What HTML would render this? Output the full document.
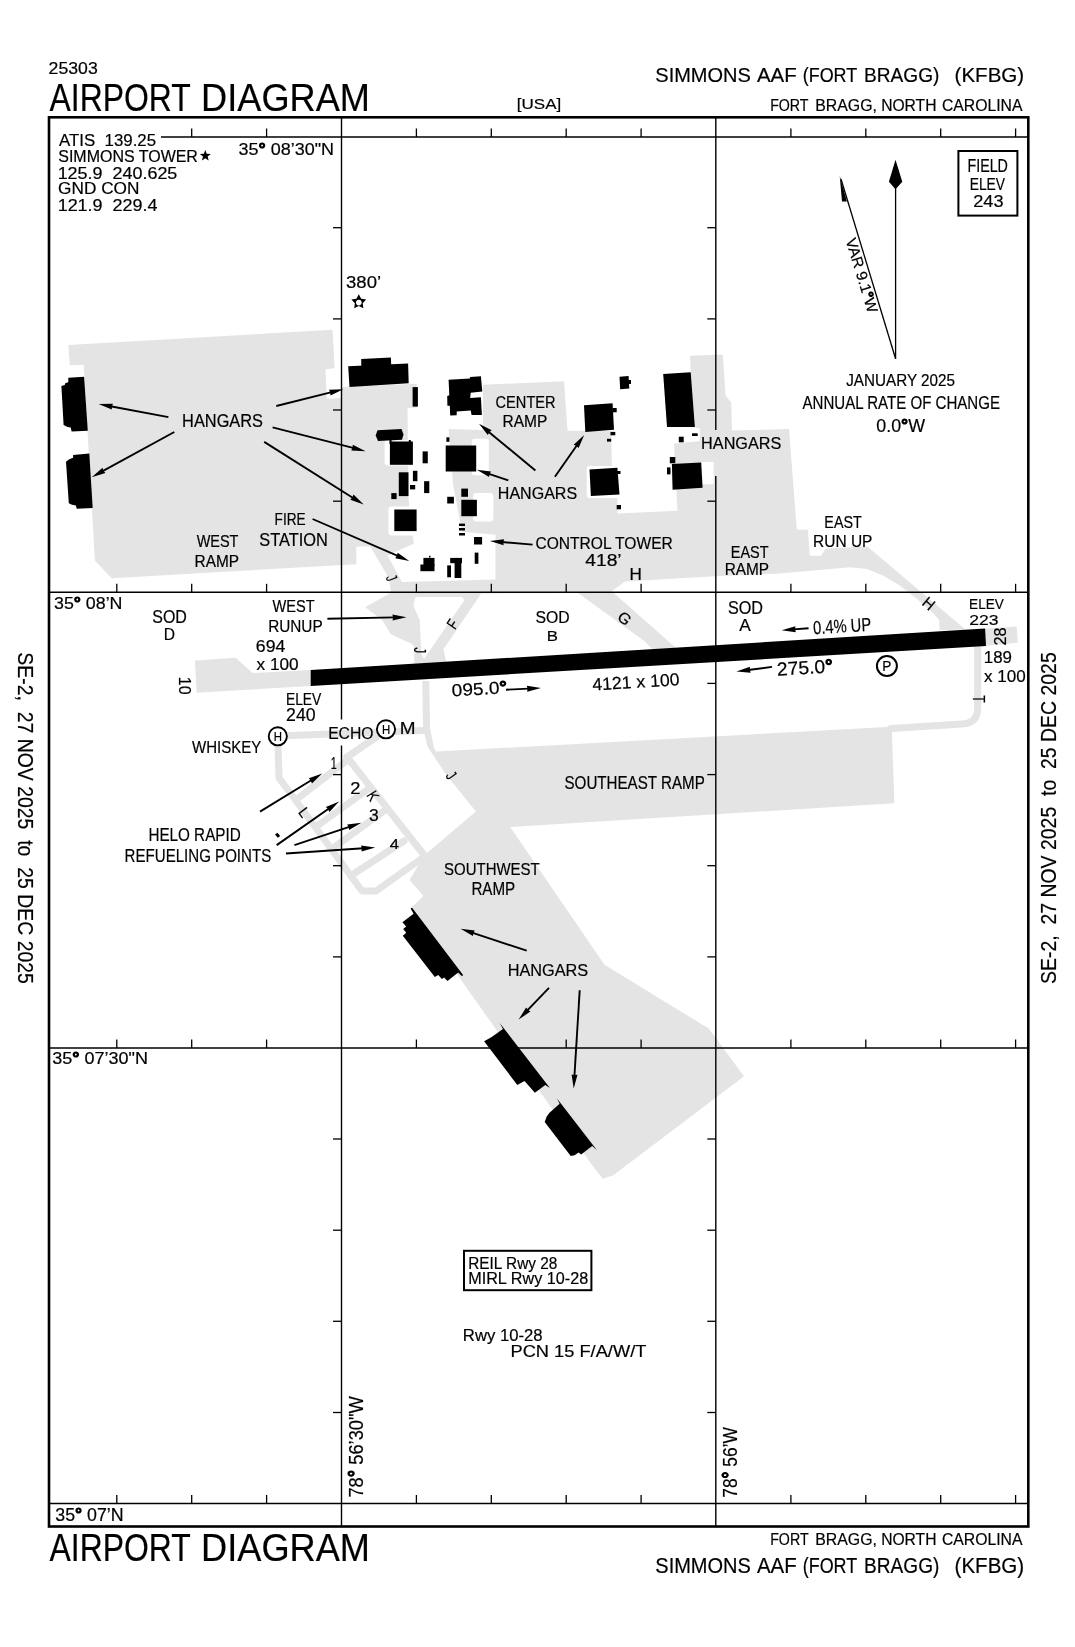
<!DOCTYPE html>
<html><head><meta charset="utf-8"><style>
html,body{margin:0;padding:0;background:#fff;width:1075px;height:1647px;overflow:hidden}
svg{display:block;will-change:transform}
text{font-family:"Liberation Sans",sans-serif;fill:#000;white-space:pre;stroke:#000;stroke-width:0.2px}
</style></head><body>
<svg width="1075" height="1647" viewBox="0 0 1075 1647">
<polygon points="68.3,345.1 332.6,329.8 334.5,368.2 325.4,369.2 326.7,398.8 341.7,398.1 341.7,387.0 416.5,383.8 417.2,407.4 407.5,408.0 408.5,499.0 413.7,543.7 387.6,555.6 401.9,581.9 495.5,579.4 495.5,534.8 462.0,531.8 453.1,484.2 448.6,429.1 483.0,430.0 483.0,384.7 564.1,381.3 567.5,430.7 611.2,431.2 611.9,466.0 617.4,498.0 617.4,513.5 677.4,510.7 674.0,443.7 699.8,441.0 699.8,428.4 695.0,427.5 690.7,372.3 690.1,355.7 722.8,354.6 725.6,395.6 731.2,402.6 732.0,430.5 789.0,429.1 796.8,529.5 807.9,529.8 809.8,555.8 821.0,555.8 826.0,548.5 867.4,546.5 964.2,628.4 966.0,629.5 939.5,630.0 939.3,620.3 933.7,613.6 917.0,599.1 900.2,585.7 883.5,575.7 866.7,569.0 850.0,567.3 780.0,573.5 714.6,576.3 625.0,581.6 611.8,591.3 676.0,648.0 656.0,649.5 578.0,593.0 481.2,593.4 443.5,649.2 446.3,662.0 414.2,663.5 414.2,646.4 411.4,643.6 403.0,640.1 390.5,633.8 382.1,620.0 365.3,607.3 391.0,592.5 388.8,578.1 370.2,546.5 356.3,546.5 356.3,564.2 111.6,578.3 94.9,560.5 83.7,364.7 69.8,365.2" fill="#e4e4e4" />
<polygon points="417.0,596.9 462.0,596.9 464.4,600.3 424.0,659.0 421.2,653.4 419.8,620.0 413.5,606.0 415.0,598.0" fill="#fff" />
<polygon points="194.9,660.5 235.8,657.7 252.6,673.0 310.7,670.1 310.7,686.0 196.7,692.7" fill="#e4e4e4" />
<polygon points="985.0,628.8 1016.7,626.6 1017.7,642.8 985.0,646.0" fill="#e4e4e4" />
<polygon points="422.3,681.0 429.3,681.0 430.0,728.0 434.0,748.0 436.3,751.6 891.7,726.7 894.4,803.2 510.2,827.0 604.5,964.8 708.7,1028.5 744.1,1076.2 613.3,1175.2 602.7,1178.7 590.3,1162.8 410.6,908.6 423.5,896.0 409.5,880.0 424.0,855.5 475.9,811.4 446.0,774.4 427.4,746.5 423.0,728.0" fill="#e4e4e4" />
<polyline points="277.7,736.0 424.0,730.5" fill="none" stroke="#e4e4e4" stroke-width="7" stroke-linejoin="round" stroke-linecap="round"/>
<polyline points="278.0,745.0 279.0,778.0 294.0,798.0 362.0,891.0 376.0,891.0 421.0,859.0" fill="none" stroke="#e4e4e4" stroke-width="7" stroke-linejoin="round" stroke-linecap="round"/>
<polyline points="347.0,757.0 424.0,855.0" fill="none" stroke="#e4e4e4" stroke-width="7" stroke-linejoin="round" stroke-linecap="round"/>
<polyline points="378.0,736.0 347.0,757.0" fill="none" stroke="#e4e4e4" stroke-width="7" stroke-linejoin="round" stroke-linecap="round"/>
<polyline points="297.0,799.0 345.0,762.0" fill="none" stroke="#e4e4e4" stroke-width="7" stroke-linejoin="round" stroke-linecap="round"/>
<polyline points="317.0,826.0 367.0,790.0" fill="none" stroke="#e4e4e4" stroke-width="7" stroke-linejoin="round" stroke-linecap="round"/>
<polyline points="333.0,848.0 384.0,811.0" fill="none" stroke="#e4e4e4" stroke-width="7" stroke-linejoin="round" stroke-linecap="round"/>
<polyline points="355.0,873.0 404.0,841.0" fill="none" stroke="#e4e4e4" stroke-width="7" stroke-linejoin="round" stroke-linecap="round"/>
<path d="M977.7,646 L977.7,708 Q977.7,723.5 962,724 L891,728.5" fill="none" stroke="#e4e4e4" stroke-width="7" stroke-linecap="round"/>
<polyline points="592.0,579.0 658.0,649.0" fill="none" stroke="#e4e4e4" stroke-width="8.5" stroke-linejoin="round" stroke-linecap="round"/>
<rect x="384.6" y="440.3" width="28.3" height="25.3" fill="#fff" rx="3"/>
<rect x="388.4" y="506.5" width="28.2" height="29.0" fill="#fff" rx="3"/>
<rect x="471.7" y="438.8" width="17.1" height="36.5" fill="#fff" rx="3"/>
<rect x="473.2" y="493.1" width="20.1" height="28.3" fill="#fff" rx="3"/>
<rect x="586.7" y="466.0" width="32.3" height="32.0" fill="#fff" rx="3"/>
<rect x="701.2" y="461.9" width="12.5" height="22.3" fill="#fff"/>
<polygon points="68.3,377.7 84.1,376.7 87.8,430.7 71.6,431.6 70.7,427.5 67.5,427.0 63.6,425.1 61.4,386.0 64.7,385.1 65.5,382.9 68.3,382.3" fill="#000" />
<polygon points="73.1,454.9 89.3,453.6 92.7,507.9 76.7,508.8 75.9,505.5 72.0,504.7 68.8,503.3 66.0,461.8 69.2,459.2 73.1,457.7" fill="#000" />
<polygon points="348.2,366.2 408.1,363.6 408.7,383.2 349.5,387.1" fill="#000" />
<polygon points="361.2,359.1 390.9,357.5 391.2,365.0 361.3,366.5" fill="#000" />
<rect x="412.6" y="387.1" width="5.3" height="19.5" fill="#000"/>
<rect x="389.9" y="441.5" width="23.0" height="23.3" fill="#000"/>
<rect x="422.6" y="451.4" width="5.2" height="11.9" fill="#000"/>
<rect x="398.8" y="472.3" width="9.7" height="23.8" fill="#000"/>
<rect x="412.9" y="470.8" width="4.5" height="10.4" fill="#000"/>
<rect x="410.0" y="485.0" width="5.2" height="4.4" fill="#000"/>
<rect x="424.1" y="481.2" width="5.2" height="11.9" fill="#000"/>
<rect x="391.3" y="493.1" width="5.3" height="6.0" fill="#000"/>
<rect x="394.3" y="509.5" width="22.3" height="21.6" fill="#000"/>
<rect x="445.7" y="445.5" width="30.5" height="26.0" fill="#000"/>
<rect x="446.4" y="437.3" width="3.0" height="4.5" fill="#000"/>
<rect x="447.2" y="496.8" width="6.7" height="6.7" fill="#000"/>
<rect x="461.3" y="488.6" width="6.7" height="8.2" fill="#000"/>
<rect x="461.3" y="499.8" width="15.6" height="16.4" fill="#000"/>
<rect x="459.0" y="523.6" width="6.0" height="2.4" fill="#000"/>
<rect x="459.0" y="528.0" width="6.0" height="2.5" fill="#000"/>
<rect x="459.0" y="533.0" width="6.0" height="2.5" fill="#000"/>
<rect x="474.0" y="537.0" width="8.1" height="7.5" fill="#000"/>
<rect x="474.7" y="552.6" width="3.7" height="11.2" fill="#000"/>
<rect x="423.4" y="557.9" width="11.1" height="8.1" fill="#000"/>
<rect x="420.4" y="564.5" width="14.1" height="6.7" fill="#000"/>
<rect x="450.2" y="557.9" width="11.8" height="5.3" fill="#000"/>
<rect x="454.6" y="562.0" width="6.7" height="16.0" fill="#000"/>
<rect x="447.2" y="565.4" width="3.8" height="11.9" fill="#000"/>
<rect x="429.0" y="555.8" width="1.5" height="1.7" fill="#000"/>
<rect x="612.6" y="408.0" width="4.1" height="4.3" fill="#000"/>
<rect x="610.5" y="431.9" width="4.8" height="3.4" fill="#000"/>
<rect x="607.0" y="438.8" width="4.2" height="2.8" fill="#000"/>
<rect x="628.0" y="380.0" width="3.0" height="4.0" fill="#000"/>
<rect x="617.0" y="471.0" width="3.5" height="3.0" fill="#000"/>
<rect x="669.8" y="457.0" width="5.5" height="6.3" fill="#000"/>
<rect x="667.0" y="467.4" width="3.5" height="7.0" fill="#000"/>
<rect x="678.8" y="436.7" width="4.9" height="5.6" fill="#000"/>
<rect x="692.0" y="433.3" width="5.7" height="2.7" fill="#000"/>
<rect x="616.7" y="505.0" width="4.3" height="4.3" fill="#000"/>
<polygon points="584.0,405.3 612.6,403.3 614.0,429.8 585.3,431.9" fill="#000" />
<polygon points="619.5,376.7 628.6,376.0 629.3,388.6 620.2,389.3" fill="#000" />
<polygon points="589.5,469.5 617.4,467.7 619.5,494.6 590.9,496.0" fill="#000" />
<polygon points="663.2,374.0 690.7,372.3 694.9,427.0 667.0,427.0" fill="#000" />
<polygon points="671.9,464.0 701.2,462.6 702.6,487.7 672.6,489.8" fill="#000" />
<polygon points="377.5,430.3 401.5,428.9 403.5,434.5 402.0,439.8 378.0,441.0 375.7,435.5" fill="#000" />
<rect x="389.5" y="440.0" width="2.0" height="4.0" fill="#000"/>
<rect x="408.8" y="440.0" width="2.0" height="4.0" fill="#000"/>
<polygon points="448.6,379.8 469.8,378.6 470.2,377.0 480.9,376.3 482.3,391.6 470.7,392.8 470.2,397.9 480.9,397.2 481.9,414.9 471.6,415.1 470.7,410.5 456.7,411.4 456.7,415.3 450.2,415.6 449.8,405.8 447.4,405.8 447.2,396.0 449.3,395.3" fill="#000" />
<polygon points="410.6,908.6 412.1,907.8 463.1,975.1 462.0,976.3 458.2,972.5 447.5,981.1 444.1,977.4 441.9,978.9 438.2,975.1 434.8,977.0 402.8,935.7 406.2,932.7 403.2,929.0 406.2,926.4 402.4,922.3 413.6,913.8" fill="#000" />
<polygon points="499.7,1023.0 549.9,1088.1 545.3,1084.9 534.9,1092.7 524.5,1081.0 517.3,1084.9 484.1,1041.3 491.3,1037.3 503.0,1028.9" fill="#000" />
<polygon points="557.0,1098.6 596.8,1150.0 592.2,1146.1 581.1,1154.5 578.5,1152.6 574.6,1155.2 570.7,1155.9 544.7,1122.0 546.6,1116.8 549.2,1112.9 559.6,1103.8" fill="#000" />
<polygon points="310.7,670.1 985.1,628.5 986.0,646.0 310.7,686.0" fill="#000" />
<g stroke="#000" fill="none">
<rect x="49" y="117.3" width="979.3" height="1409.2" stroke-width="2.6"/>
</g>
<line x1="161.0" y1="137.0" x2="1028.0" y2="137.0" stroke="#000" stroke-width="1.4"/>
<line x1="49.0" y1="1503.5" x2="1028.0" y2="1503.5" stroke="#000" stroke-width="1.4"/>
<line x1="49.0" y1="592.3" x2="1028.0" y2="592.3" stroke="#000" stroke-width="1.4"/>
<line x1="49.0" y1="1048.0" x2="1028.0" y2="1048.0" stroke="#000" stroke-width="1.4"/>
<line x1="341.5" y1="117.3" x2="341.5" y2="719.5" stroke="#000" stroke-width="1.4"/>
<line x1="341.5" y1="745.6" x2="341.5" y2="1526.5" stroke="#000" stroke-width="1.4"/>
<line x1="715.8" y1="117.3" x2="715.8" y2="430.0" stroke="#000" stroke-width="1.4"/>
<line x1="715.8" y1="476.0" x2="715.8" y2="1526.5" stroke="#000" stroke-width="1.4"/>
<line x1="191.7" y1="128.5" x2="191.7" y2="137.0" stroke="#000" stroke-width="1.3"/>
<line x1="266.6" y1="128.5" x2="266.6" y2="137.0" stroke="#000" stroke-width="1.3"/>
<line x1="416.4" y1="128.5" x2="416.4" y2="137.0" stroke="#000" stroke-width="1.3"/>
<line x1="491.3" y1="128.5" x2="491.3" y2="137.0" stroke="#000" stroke-width="1.3"/>
<line x1="566.2" y1="128.5" x2="566.2" y2="137.0" stroke="#000" stroke-width="1.3"/>
<line x1="641.1" y1="128.5" x2="641.1" y2="137.0" stroke="#000" stroke-width="1.3"/>
<line x1="790.9" y1="128.5" x2="790.9" y2="137.0" stroke="#000" stroke-width="1.3"/>
<line x1="865.8" y1="128.5" x2="865.8" y2="137.0" stroke="#000" stroke-width="1.3"/>
<line x1="940.7" y1="128.5" x2="940.7" y2="137.0" stroke="#000" stroke-width="1.3"/>
<line x1="1015.6" y1="128.5" x2="1015.6" y2="137.0" stroke="#000" stroke-width="1.3"/>
<line x1="116.8" y1="583.8" x2="116.8" y2="592.3" stroke="#000" stroke-width="1.3"/>
<line x1="191.7" y1="583.8" x2="191.7" y2="592.3" stroke="#000" stroke-width="1.3"/>
<line x1="266.6" y1="583.8" x2="266.6" y2="592.3" stroke="#000" stroke-width="1.3"/>
<line x1="416.4" y1="583.8" x2="416.4" y2="592.3" stroke="#000" stroke-width="1.3"/>
<line x1="491.3" y1="583.8" x2="491.3" y2="592.3" stroke="#000" stroke-width="1.3"/>
<line x1="566.2" y1="583.8" x2="566.2" y2="592.3" stroke="#000" stroke-width="1.3"/>
<line x1="641.1" y1="583.8" x2="641.1" y2="592.3" stroke="#000" stroke-width="1.3"/>
<line x1="790.9" y1="583.8" x2="790.9" y2="592.3" stroke="#000" stroke-width="1.3"/>
<line x1="865.8" y1="583.8" x2="865.8" y2="592.3" stroke="#000" stroke-width="1.3"/>
<line x1="940.7" y1="583.8" x2="940.7" y2="592.3" stroke="#000" stroke-width="1.3"/>
<line x1="1015.6" y1="583.8" x2="1015.6" y2="592.3" stroke="#000" stroke-width="1.3"/>
<line x1="116.8" y1="1039.5" x2="116.8" y2="1048.0" stroke="#000" stroke-width="1.3"/>
<line x1="191.7" y1="1039.5" x2="191.7" y2="1048.0" stroke="#000" stroke-width="1.3"/>
<line x1="266.6" y1="1039.5" x2="266.6" y2="1048.0" stroke="#000" stroke-width="1.3"/>
<line x1="416.4" y1="1039.5" x2="416.4" y2="1048.0" stroke="#000" stroke-width="1.3"/>
<line x1="491.3" y1="1039.5" x2="491.3" y2="1048.0" stroke="#000" stroke-width="1.3"/>
<line x1="566.2" y1="1039.5" x2="566.2" y2="1048.0" stroke="#000" stroke-width="1.3"/>
<line x1="641.1" y1="1039.5" x2="641.1" y2="1048.0" stroke="#000" stroke-width="1.3"/>
<line x1="790.9" y1="1039.5" x2="790.9" y2="1048.0" stroke="#000" stroke-width="1.3"/>
<line x1="865.8" y1="1039.5" x2="865.8" y2="1048.0" stroke="#000" stroke-width="1.3"/>
<line x1="940.7" y1="1039.5" x2="940.7" y2="1048.0" stroke="#000" stroke-width="1.3"/>
<line x1="1015.6" y1="1039.5" x2="1015.6" y2="1048.0" stroke="#000" stroke-width="1.3"/>
<line x1="116.8" y1="1495.0" x2="116.8" y2="1503.5" stroke="#000" stroke-width="1.3"/>
<line x1="191.7" y1="1495.0" x2="191.7" y2="1503.5" stroke="#000" stroke-width="1.3"/>
<line x1="266.6" y1="1495.0" x2="266.6" y2="1503.5" stroke="#000" stroke-width="1.3"/>
<line x1="416.4" y1="1495.0" x2="416.4" y2="1503.5" stroke="#000" stroke-width="1.3"/>
<line x1="491.3" y1="1495.0" x2="491.3" y2="1503.5" stroke="#000" stroke-width="1.3"/>
<line x1="566.2" y1="1495.0" x2="566.2" y2="1503.5" stroke="#000" stroke-width="1.3"/>
<line x1="641.1" y1="1495.0" x2="641.1" y2="1503.5" stroke="#000" stroke-width="1.3"/>
<line x1="790.9" y1="1495.0" x2="790.9" y2="1503.5" stroke="#000" stroke-width="1.3"/>
<line x1="865.8" y1="1495.0" x2="865.8" y2="1503.5" stroke="#000" stroke-width="1.3"/>
<line x1="940.7" y1="1495.0" x2="940.7" y2="1503.5" stroke="#000" stroke-width="1.3"/>
<line x1="1015.6" y1="1495.0" x2="1015.6" y2="1503.5" stroke="#000" stroke-width="1.3"/>
<line x1="333.0" y1="501.2" x2="341.5" y2="501.2" stroke="#000" stroke-width="1.3"/>
<line x1="333.0" y1="956.9" x2="341.5" y2="956.9" stroke="#000" stroke-width="1.3"/>
<line x1="333.0" y1="1412.5" x2="341.5" y2="1412.5" stroke="#000" stroke-width="1.3"/>
<line x1="333.0" y1="410.0" x2="341.5" y2="410.0" stroke="#000" stroke-width="1.3"/>
<line x1="333.0" y1="865.7" x2="341.5" y2="865.7" stroke="#000" stroke-width="1.3"/>
<line x1="333.0" y1="1321.3" x2="341.5" y2="1321.3" stroke="#000" stroke-width="1.3"/>
<line x1="333.0" y1="318.9" x2="341.5" y2="318.9" stroke="#000" stroke-width="1.3"/>
<line x1="333.0" y1="774.6" x2="341.5" y2="774.6" stroke="#000" stroke-width="1.3"/>
<line x1="333.0" y1="1230.2" x2="341.5" y2="1230.2" stroke="#000" stroke-width="1.3"/>
<line x1="333.0" y1="227.7" x2="341.5" y2="227.7" stroke="#000" stroke-width="1.3"/>
<line x1="333.0" y1="683.4" x2="341.5" y2="683.4" stroke="#000" stroke-width="1.3"/>
<line x1="333.0" y1="1139.0" x2="341.5" y2="1139.0" stroke="#000" stroke-width="1.3"/>
<line x1="707.3" y1="501.2" x2="715.8" y2="501.2" stroke="#000" stroke-width="1.3"/>
<line x1="707.3" y1="956.9" x2="715.8" y2="956.9" stroke="#000" stroke-width="1.3"/>
<line x1="707.3" y1="1412.5" x2="715.8" y2="1412.5" stroke="#000" stroke-width="1.3"/>
<line x1="707.3" y1="410.0" x2="715.8" y2="410.0" stroke="#000" stroke-width="1.3"/>
<line x1="707.3" y1="865.7" x2="715.8" y2="865.7" stroke="#000" stroke-width="1.3"/>
<line x1="707.3" y1="1321.3" x2="715.8" y2="1321.3" stroke="#000" stroke-width="1.3"/>
<line x1="707.3" y1="318.9" x2="715.8" y2="318.9" stroke="#000" stroke-width="1.3"/>
<line x1="707.3" y1="774.6" x2="715.8" y2="774.6" stroke="#000" stroke-width="1.3"/>
<line x1="707.3" y1="1230.2" x2="715.8" y2="1230.2" stroke="#000" stroke-width="1.3"/>
<line x1="707.3" y1="227.7" x2="715.8" y2="227.7" stroke="#000" stroke-width="1.3"/>
<line x1="707.3" y1="683.4" x2="715.8" y2="683.4" stroke="#000" stroke-width="1.3"/>
<line x1="707.3" y1="1139.0" x2="715.8" y2="1139.0" stroke="#000" stroke-width="1.3"/>
<rect x="958.4" y="151" width="59" height="64.6" fill="none" stroke="#000" stroke-width="2"/>
<rect x="464" y="1250.8" width="127.4" height="39.4" fill="none" stroke="#000" stroke-width="2"/>
<circle cx="277.8" cy="736.3" r="9.1" fill="#fff" stroke="#000" stroke-width="1.9"/>
<text x="273.69" y="740.50" font-size="12.17" textLength="8.25" lengthAdjust="spacingAndGlyphs" >H</text>
<circle cx="386" cy="729.3" r="9.1" fill="#fff" stroke="#000" stroke-width="1.9"/>
<text x="381.89" y="733.50" font-size="12.17" textLength="8.25" lengthAdjust="spacingAndGlyphs" >H</text>
<circle cx="886.9" cy="666" r="10" fill="#fff" stroke="#000" stroke-width="2"/>
<text x="882.21" y="671.20" font-size="15.07" textLength="9.10" lengthAdjust="spacingAndGlyphs" >P</text>
<line x1="895.6" y1="186.0" x2="895.6" y2="358.8" stroke="#000" stroke-width="1.3"/>
<polygon points="895.5,159.8 902.3,181.8 895.5,189.2 888.9,181.8" fill="#000" />
<line x1="841.0" y1="179.0" x2="895.6" y2="358.8" stroke="#000" stroke-width="1.3"/>
<polygon points="839.7,175.7 846.9,201.4 842.0,201.4" fill="#000" />
<polygon points="205.3,150.0 206.7,153.8 210.8,154.0 207.6,156.6 208.7,160.5 205.3,158.2 201.9,160.5 203.0,156.6 199.8,154.0 203.9,153.8" fill="#000" />
<polygon points="358.8,294.2 361.2,298.7 366.2,299.6 362.7,303.3 363.4,308.3 358.8,306.1 354.2,308.3 354.9,303.3 351.4,299.6 356.4,298.7" fill="#000" />
<circle cx="358.8" cy="302.6" r="2.8" fill="#fff"/>
<line x1="168.4" y1="417.1" x2="110.4" y2="406.3" stroke="#000" stroke-width="1.9"/>
<polygon points="98.6,404.1 112.9,403.7 111.9,406.6 111.8,409.6" fill="#000" />
<line x1="174.3" y1="432.0" x2="102.2" y2="471.4" stroke="#000" stroke-width="1.9"/>
<polygon points="91.7,477.2 102.5,467.8 103.5,470.7 105.4,473.1" fill="#000" />
<line x1="276.3" y1="406.0" x2="331.7" y2="392.1" stroke="#000" stroke-width="1.9"/>
<polygon points="343.3,389.2 330.5,395.5 330.2,392.5 329.0,389.7" fill="#000" />
<line x1="272.6" y1="427.3" x2="354.0" y2="448.2" stroke="#000" stroke-width="1.9"/>
<polygon points="365.6,451.2 351.3,450.6 352.5,447.8 352.8,444.8" fill="#000" />
<line x1="264.2" y1="441.9" x2="353.5" y2="498.2" stroke="#000" stroke-width="1.9"/>
<polygon points="363.7,504.6 350.3,499.7 352.3,497.4 353.5,494.6" fill="#000" />
<line x1="312.6" y1="519.0" x2="398.3" y2="556.2" stroke="#000" stroke-width="1.9"/>
<polygon points="409.3,561.0 395.3,558.2 396.9,555.6 397.7,552.7" fill="#000" />
<line x1="327.4" y1="618.7" x2="394.5" y2="617.4" stroke="#000" stroke-width="1.9"/>
<polygon points="406.5,617.2 392.6,620.5 393.0,617.5 392.4,614.5" fill="#000" />
<line x1="535.4" y1="470.6" x2="488.2" y2="431.4" stroke="#000" stroke-width="1.9"/>
<polygon points="479.0,423.7 491.7,430.3 489.4,432.3 487.8,435.0" fill="#000" />
<line x1="554.9" y1="476.8" x2="577.3" y2="444.7" stroke="#000" stroke-width="1.9"/>
<polygon points="584.2,434.9 578.6,448.1 576.5,446.0 573.7,444.7" fill="#000" />
<line x1="508.3" y1="480.4" x2="488.2" y2="473.6" stroke="#000" stroke-width="1.9"/>
<polygon points="476.8,469.8 491.0,471.4 489.6,474.1 489.1,477.1" fill="#000" />
<line x1="532.6" y1="544.6" x2="501.9" y2="542.0" stroke="#000" stroke-width="1.9"/>
<polygon points="489.9,541.0 504.1,539.2 503.4,542.1 503.6,545.2" fill="#000" />
<line x1="260.0" y1="811.6" x2="312.1" y2="779.8" stroke="#000" stroke-width="1.9"/>
<polygon points="322.3,773.5 311.9,783.4 310.8,780.5 308.8,778.2" fill="#000" />
<line x1="276.7" y1="845.1" x2="329.3" y2="808.3" stroke="#000" stroke-width="1.9"/>
<polygon points="339.1,801.4 329.4,811.9 328.0,809.1 325.9,807.0" fill="#000" />
<line x1="294.4" y1="845.1" x2="350.0" y2="826.6" stroke="#000" stroke-width="1.9"/>
<polygon points="361.4,822.8 349.1,830.1 348.6,827.1 347.2,824.4" fill="#000" />
<line x1="286.0" y1="853.5" x2="363.3" y2="848.3" stroke="#000" stroke-width="1.9"/>
<polygon points="375.3,847.5 361.5,851.4 361.8,848.4 361.1,845.4" fill="#000" />
<line x1="526.7" y1="950.7" x2="472.0" y2="932.6" stroke="#000" stroke-width="1.9"/>
<polygon points="460.6,928.8 474.8,930.4 473.4,933.0 472.9,936.1" fill="#000" />
<line x1="549.0" y1="987.8" x2="526.9" y2="1010.9" stroke="#000" stroke-width="1.9"/>
<polygon points="518.6,1019.6 526.1,1007.4 527.9,1009.8 530.4,1011.6" fill="#000" />
<line x1="579.7" y1="990.3" x2="574.4" y2="1076.6" stroke="#000" stroke-width="1.9"/>
<polygon points="573.7,1088.6 571.6,1074.4 574.5,1075.1 577.5,1074.8" fill="#000" />
<line x1="506.0" y1="689.7" x2="529.0" y2="688.6" stroke="#000" stroke-width="1.9"/>
<polygon points="541.0,688.0 527.2,691.7 527.5,688.7 526.9,685.7" fill="#000" />
<line x1="808.6" y1="628.3" x2="793.6" y2="629.4" stroke="#000" stroke-width="1.9"/>
<polygon points="781.6,630.2 795.4,626.2 795.1,629.3 795.8,632.2" fill="#000" />
<line x1="772.0" y1="666.9" x2="748.3" y2="670.0" stroke="#000" stroke-width="1.9"/>
<polygon points="736.4,671.5 749.9,666.7 749.8,669.8 750.7,672.7" fill="#000" />
<text x="48.62" y="74.00" font-size="15.94" textLength="49.10" lengthAdjust="spacingAndGlyphs" >25303</text>
<text x="49.50" y="110.70" font-size="39.42" textLength="141.20" lengthAdjust="spacingAndGlyphs" >AIRPORT</text>
<text x="201.11" y="110.70" font-size="39.42" textLength="168.87" lengthAdjust="spacingAndGlyphs" >DIAGRAM</text>
<text x="516.81" y="108.70" font-size="15.07" textLength="44.41" lengthAdjust="spacingAndGlyphs" >[USA]</text>
<text x="655.30" y="82.10" font-size="21.01" textLength="95.56" lengthAdjust="spacingAndGlyphs" >SIMMONS</text>
<text x="756.90" y="82.10" font-size="21.01" textLength="39.72" lengthAdjust="spacingAndGlyphs" >AAF</text>
<text x="802.72" y="82.10" font-size="21.01" textLength="54.47" lengthAdjust="spacingAndGlyphs" >(FORT</text>
<text x="864.07" y="82.10" font-size="21.01" textLength="75.26" lengthAdjust="spacingAndGlyphs" >BRAGG)</text>
<text x="954.57" y="82.10" font-size="21.01" textLength="69.64" lengthAdjust="spacingAndGlyphs" >(KFBG)</text>
<text x="770.16" y="110.70" font-size="16.67" textLength="38.40" lengthAdjust="spacingAndGlyphs" >FORT</text>
<text x="815.23" y="110.70" font-size="16.67" textLength="61.69" lengthAdjust="spacingAndGlyphs" >BRAGG,</text>
<text x="881.15" y="110.70" font-size="16.67" textLength="55.34" lengthAdjust="spacingAndGlyphs" >NORTH</text>
<text x="941.91" y="110.70" font-size="16.67" textLength="80.63" lengthAdjust="spacingAndGlyphs" >CAROLINA</text>
<text x="59.00" y="146.00" font-size="17.10" textLength="97.12" lengthAdjust="spacingAndGlyphs" >ATIS  139.25</text>
<text x="58.28" y="162.00" font-size="16.38" textLength="139.66" lengthAdjust="spacingAndGlyphs" >SIMMONS TOWER</text>
<text x="57.65" y="178.50" font-size="17.39" textLength="119.72" lengthAdjust="spacingAndGlyphs" >125.9  240.625</text>
<text x="58.14" y="194.30" font-size="15.94" textLength="81.28" lengthAdjust="spacingAndGlyphs" >GND CON</text>
<text x="57.65" y="211.00" font-size="17.39" textLength="99.90" lengthAdjust="spacingAndGlyphs" >121.9  229.4</text>
<text x="238.48" y="154.80" font-size="17.39" textLength="95.53" lengthAdjust="spacingAndGlyphs" >35<tspan style="stroke-width:1.3px">°</tspan> 08’30"N</text>
<text x="967.46" y="172.40" font-size="17.97" textLength="40.44" lengthAdjust="spacingAndGlyphs" >FIELD</text>
<text x="969.69" y="189.60" font-size="16.81" textLength="35.41" lengthAdjust="spacingAndGlyphs" >ELEV</text>
<text x="973.19" y="207.00" font-size="16.81" textLength="30.30" lengthAdjust="spacingAndGlyphs" >243</text>
<text x="346.06" y="287.60" font-size="16.09" textLength="35.07" lengthAdjust="spacingAndGlyphs" >380’</text>
<text x="182.09" y="426.50" font-size="18.84" textLength="80.95" lengthAdjust="spacingAndGlyphs" >HANGARS</text>
<text x="846.17" y="385.80" font-size="16.09" textLength="108.82" lengthAdjust="spacingAndGlyphs" >JANUARY 2025</text>
<text x="802.50" y="409.00" font-size="18.84" textLength="197.45" lengthAdjust="spacingAndGlyphs" >ANNUAL RATE OF CHANGE</text>
<text x="876.29" y="432.00" font-size="18.84" textLength="48.78" lengthAdjust="spacingAndGlyphs" >0.0<tspan style="stroke-width:1.3px">°</tspan>W</text>
<text x="495.57" y="408.40" font-size="16.23" textLength="60.01" lengthAdjust="spacingAndGlyphs" >CENTER</text>
<text x="502.56" y="427.40" font-size="16.67" textLength="44.78" lengthAdjust="spacingAndGlyphs" >RAMP</text>
<text x="497.82" y="498.50" font-size="17.39" textLength="79.31" lengthAdjust="spacingAndGlyphs" >HANGARS</text>
<text x="701.10" y="448.60" font-size="16.23" textLength="80.24" lengthAdjust="spacingAndGlyphs" >HANGARS</text>
<text x="274.61" y="525.10" font-size="16.09" textLength="31.08" lengthAdjust="spacingAndGlyphs" >FIRE</text>
<text x="259.26" y="545.60" font-size="17.54" textLength="68.55" lengthAdjust="spacingAndGlyphs" >STATION</text>
<text x="196.63" y="546.60" font-size="16.96" textLength="41.84" lengthAdjust="spacingAndGlyphs" >WEST</text>
<text x="194.57" y="566.50" font-size="16.67" textLength="44.47" lengthAdjust="spacingAndGlyphs" >RAMP</text>
<text x="535.42" y="548.80" font-size="17.39" textLength="137.39" lengthAdjust="spacingAndGlyphs" >CONTROL TOWER</text>
<text x="585.21" y="566.00" font-size="16.09" textLength="36.46" lengthAdjust="spacingAndGlyphs" >418’</text>
<text x="629.63" y="580.00" font-size="16.09" textLength="12.38" lengthAdjust="spacingAndGlyphs" >H</text>
<text x="824.35" y="528.20" font-size="16.23" textLength="37.46" lengthAdjust="spacingAndGlyphs" >EAST</text>
<text x="813.06" y="547.10" font-size="16.09" textLength="59.37" lengthAdjust="spacingAndGlyphs" >RUN UP</text>
<text x="730.84" y="557.50" font-size="17.39" textLength="37.77" lengthAdjust="spacingAndGlyphs" >EAST</text>
<text x="724.67" y="575.00" font-size="17.39" textLength="44.47" lengthAdjust="spacingAndGlyphs" >RAMP</text>
<text x="53.99" y="608.60" font-size="16.81" textLength="68.47" lengthAdjust="spacingAndGlyphs" >35<tspan style="stroke-width:1.3px">°</tspan> 08’N</text>
<text x="152.28" y="623.30" font-size="17.54" textLength="34.57" lengthAdjust="spacingAndGlyphs" >SOD</text>
<text x="163.85" y="640.00" font-size="16.23" textLength="11.29" lengthAdjust="spacingAndGlyphs" >D</text>
<text x="272.53" y="611.60" font-size="16.09" textLength="42.15" lengthAdjust="spacingAndGlyphs" >WEST</text>
<text x="268.17" y="631.70" font-size="16.96" textLength="54.50" lengthAdjust="spacingAndGlyphs" >RUNUP</text>
<text x="255.82" y="651.60" font-size="16.09" textLength="29.48" lengthAdjust="spacingAndGlyphs" >694</text>
<text x="256.53" y="669.70" font-size="16.96" textLength="42.10" lengthAdjust="spacingAndGlyphs" >x 100</text>
<text x="535.49" y="623.30" font-size="16.23" textLength="34.15" lengthAdjust="spacingAndGlyphs" >SOD</text>
<text x="546.65" y="641.00" font-size="15.51" textLength="11.22" lengthAdjust="spacingAndGlyphs" >B</text>
<text x="727.97" y="614.00" font-size="18.55" textLength="35.09" lengthAdjust="spacingAndGlyphs" >SOD</text>
<text x="739.20" y="631.00" font-size="16.81" textLength="11.54" lengthAdjust="spacingAndGlyphs" >A</text>
<text x="969.11" y="608.70" font-size="15.36" textLength="34.68" lengthAdjust="spacingAndGlyphs" >ELEV</text>
<text x="969.32" y="624.70" font-size="15.51" textLength="29.24" lengthAdjust="spacingAndGlyphs" >223</text>
<text x="983.83" y="663.30" font-size="16.23" textLength="28.19" lengthAdjust="spacingAndGlyphs" >189</text>
<text x="984.03" y="681.90" font-size="16.23" textLength="41.69" lengthAdjust="spacingAndGlyphs" >x 100</text>
<text transform="translate(842.00,626.00) rotate(-3.5)" x="-28.94" y="6.50" font-size="18.84" textLength="58.04" lengthAdjust="spacingAndGlyphs">0.4% UP</text>
<text transform="translate(804.80,667.50) rotate(-3.5)" x="-27.97" y="6.50" font-size="18.84" textLength="56.08" lengthAdjust="spacingAndGlyphs">275.0<tspan style="stroke-width:1.3px">°</tspan></text>
<text transform="translate(479.20,688.80) rotate(-3.5)" x="-27.51" y="6.00" font-size="17.39" textLength="55.36" lengthAdjust="spacingAndGlyphs">095.0<tspan style="stroke-width:1.3px">°</tspan></text>
<text transform="translate(635.80,681.90) rotate(-3.5)" x="-43.55" y="6.00" font-size="17.39" textLength="87.35" lengthAdjust="spacingAndGlyphs">4121 x 100</text>
<text x="285.89" y="704.80" font-size="17.10" textLength="35.51" lengthAdjust="spacingAndGlyphs" >ELEV</text>
<text x="286.11" y="721.00" font-size="18.26" textLength="29.57" lengthAdjust="spacingAndGlyphs" >240</text>
<text x="192.02" y="753.00" font-size="17.39" textLength="69.31" lengthAdjust="spacingAndGlyphs" >WHISKEY</text>
<text x="328.14" y="739.00" font-size="17.39" textLength="45.33" lengthAdjust="spacingAndGlyphs" >ECHO</text>
<text x="399.88" y="734.40" font-size="16.96" textLength="15.79" lengthAdjust="spacingAndGlyphs" >M</text>
<text x="564.52" y="789.00" font-size="18.12" textLength="140.26" lengthAdjust="spacingAndGlyphs" >SOUTHEAST RAMP</text>
<text x="148.38" y="840.50" font-size="18.99" textLength="92.34" lengthAdjust="spacingAndGlyphs" >HELO RAPID</text>
<text x="124.59" y="861.70" font-size="18.84" textLength="146.64" lengthAdjust="spacingAndGlyphs" >REFUELING POINTS</text>
<text x="444.03" y="875.30" font-size="17.39" textLength="95.76" lengthAdjust="spacingAndGlyphs" >SOUTHWEST</text>
<text x="471.39" y="895.40" font-size="18.26" textLength="43.84" lengthAdjust="spacingAndGlyphs" >RAMP</text>
<text x="507.70" y="976.10" font-size="17.39" textLength="80.54" lengthAdjust="spacingAndGlyphs" >HANGARS</text>
<text x="52.28" y="1063.90" font-size="16.81" textLength="95.63" lengthAdjust="spacingAndGlyphs" >35<tspan style="stroke-width:1.3px">°</tspan> 07’30"N</text>
<text x="468.27" y="1268.70" font-size="16.96" textLength="88.99" lengthAdjust="spacingAndGlyphs" >REIL Rwy 28</text>
<text x="468.21" y="1284.40" font-size="16.52" textLength="119.94" lengthAdjust="spacingAndGlyphs" >MIRL Rwy 10-28</text>
<text x="462.86" y="1341.20" font-size="16.81" textLength="79.80" lengthAdjust="spacingAndGlyphs" >Rwy 10-28</text>
<text x="510.54" y="1357.00" font-size="16.52" textLength="135.83" lengthAdjust="spacingAndGlyphs" >PCN 15 F/A/W/T</text>
<text x="55.29" y="1520.70" font-size="17.54" textLength="68.36" lengthAdjust="spacingAndGlyphs" >35<tspan style="stroke-width:1.3px">°</tspan> 07’N</text>
<text x="49.50" y="1560.80" font-size="39.28" textLength="141.20" lengthAdjust="spacingAndGlyphs" >AIRPORT</text>
<text x="201.11" y="1560.80" font-size="39.28" textLength="168.87" lengthAdjust="spacingAndGlyphs" >DIAGRAM</text>
<text x="770.16" y="1545.10" font-size="16.38" textLength="38.40" lengthAdjust="spacingAndGlyphs" >FORT</text>
<text x="815.23" y="1545.10" font-size="16.38" textLength="61.69" lengthAdjust="spacingAndGlyphs" >BRAGG,</text>
<text x="881.15" y="1545.10" font-size="16.38" textLength="55.34" lengthAdjust="spacingAndGlyphs" >NORTH</text>
<text x="941.91" y="1545.10" font-size="16.38" textLength="80.63" lengthAdjust="spacingAndGlyphs" >CAROLINA</text>
<text x="655.30" y="1572.70" font-size="21.30" textLength="95.56" lengthAdjust="spacingAndGlyphs" >SIMMONS</text>
<text x="756.90" y="1572.70" font-size="21.30" textLength="39.72" lengthAdjust="spacingAndGlyphs" >AAF</text>
<text x="802.72" y="1572.70" font-size="21.30" textLength="54.47" lengthAdjust="spacingAndGlyphs" >(FORT</text>
<text x="864.07" y="1572.70" font-size="21.30" textLength="75.26" lengthAdjust="spacingAndGlyphs" >BRAGG)</text>
<text x="954.57" y="1572.70" font-size="21.30" textLength="69.64" lengthAdjust="spacingAndGlyphs" >(KFBG)</text>
<text x="330.79" y="768.80" font-size="16.09" textLength="6.01" lengthAdjust="spacingAndGlyphs" >1</text>
<text x="350.29" y="794.00" font-size="16.23" textLength="10.15" lengthAdjust="spacingAndGlyphs" >2</text>
<text x="369.10" y="820.90" font-size="16.09" textLength="9.72" lengthAdjust="spacingAndGlyphs" >3</text>
<text x="389.87" y="848.80" font-size="14.78" textLength="9.25" lengthAdjust="spacingAndGlyphs" >4</text>
<text transform="translate(184.60,686.00) rotate(90)" x="-9.20" y="5.75" font-size="16.67" textLength="17.80" lengthAdjust="spacingAndGlyphs">10</text>
<text transform="translate(1000.40,636.40) rotate(-90)" x="-9.17" y="5.75" font-size="16.67" textLength="18.21" lengthAdjust="spacingAndGlyphs">28</text>
<text transform="translate(861.80,275.30) rotate(73)" x="-38.58" y="5.25" font-size="15.22" textLength="77.14" lengthAdjust="spacingAndGlyphs">VAR 9.1<tspan style="stroke-width:1.3px">°</tspan>W</text>
<text transform="translate(355.80,1446.50) rotate(-90)" x="-51.07" y="6.75" font-size="19.57" textLength="101.32" lengthAdjust="spacingAndGlyphs">78<tspan style="stroke-width:1.3px">°</tspan> 56’30"W</text>
<text transform="translate(730.00,1462.00) rotate(-90)" x="-35.72" y="6.75" font-size="19.57" textLength="70.63" lengthAdjust="spacingAndGlyphs">78<tspan style="stroke-width:1.3px">°</tspan> 56’W</text>
<text transform="translate(25.10,818.10) rotate(90)" x="-165.87" y="7.40" font-size="21.45" textLength="331.67" lengthAdjust="spacingAndGlyphs">SE-2,  27 NOV 2025  to  25 DEC 2025</text>
<text transform="translate(1049.00,818.10) rotate(-90)" x="-165.87" y="7.40" font-size="21.45" textLength="331.67" lengthAdjust="spacingAndGlyphs">SE-2,  27 NOV 2025  to  25 DEC 2025</text>
<text transform="translate(373.10,796.20) rotate(59)" x="-4.79" y="5.50" font-size="15.94" textLength="8.70" lengthAdjust="spacingAndGlyphs">K</text>
<text transform="translate(304.30,812.60) rotate(53)" x="-4.42" y="5.25" font-size="15.22" textLength="8.12" lengthAdjust="spacingAndGlyphs">L</text>
<text transform="translate(451.00,775.00) rotate(54)" x="-2.68" y="5.50" font-size="15.94" textLength="6.10" lengthAdjust="spacingAndGlyphs">J</text>
<text transform="translate(419.00,650.00) rotate(90)" x="-2.41" y="5.50" font-size="15.94" textLength="5.49" lengthAdjust="spacingAndGlyphs">J</text>
<text transform="translate(452.70,623.80) rotate(-56)" x="-3.98" y="5.50" font-size="15.94" textLength="7.48" lengthAdjust="spacingAndGlyphs">F</text>
<text transform="translate(624.40,618.20) rotate(41)" x="-6.05" y="5.50" font-size="15.94" textLength="12.47" lengthAdjust="spacingAndGlyphs">G</text>
<text transform="translate(928.70,603.60) rotate(40)" x="-5.46" y="5.50" font-size="15.94" textLength="10.96" lengthAdjust="spacingAndGlyphs">H</text>
<text transform="translate(978.00,699.00) rotate(90)" x="-3.75" y="5.45" font-size="15.80" textLength="7.50" lengthAdjust="spacingAndGlyphs">T</text>
<text transform="translate(391.50,577.50) rotate(69)" x="-2.41" y="5.50" font-size="15.94" textLength="5.49" lengthAdjust="spacingAndGlyphs">J</text>
<polygon points="275.0,834.6 277.4,832.8 280.2,836.0 277.8,837.8" fill="#000" />
</svg>
</body></html>
